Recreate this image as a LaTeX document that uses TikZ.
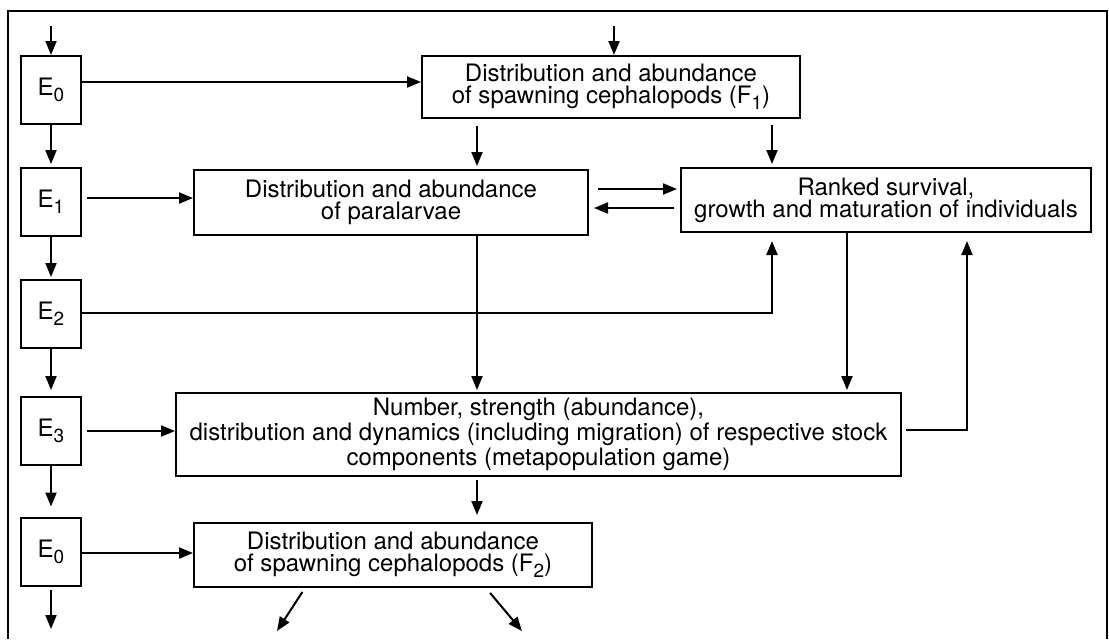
\documentclass[tikz,border=0pt]{standalone}
\usepackage{fontspec}
\setmainfont{TeX Gyre Heros}
\usetikzlibrary{arrows.meta}
\newcommand{\subidx}[1]{\raisebox{-3pt}{\fontsize{9.5}{9.5}\selectfont #1}}

\begin{document}
\begin{tikzpicture}[x=0.5pt, y=-0.5pt,
		box/.style={draw, line width=1pt, inner sep=0pt, align=center, font=\fontsize{12}{11}\selectfont},
		ebox/.style={box, minimum width=30pt, minimum height=34pt},
		arr/.style={line width=1pt, -{Triangle[length=7pt, width=5.5pt]}}]
			%%%%% START %%%%%
			
			\useasboundingbox (0, 0) rectangle (1109, 639);
			\draw[line width=0.8pt] (8, 639) -- (8, 11) -- (1107, 11) -- (1107, 639);
			
			% left column
			\node[ebox] (e0) at (51, 90) {E\subidx{0}};
			\node[ebox] (e1) at (51, 202) {E\subidx{1}};
			\node[ebox] (e2) at (51, 314) {E\subidx{2}};
			\node[ebox] (e3) at (51, 431) {E\subidx{3}};
			\node[ebox] (e4) at (51, 551.5) {E\subidx{0}};
			
			% main boxes
			\node[box, minimum width=189pt, minimum height=31pt] (f1) at (611, 87)
				{Distribution and abundance\\of spawning cephalopods (F\subidx{1})};
			\node[box, minimum width=197pt, minimum height=32.5pt] (par) at (391, 202.5)
				{Distribution and abundance\\of paralarvae};
			\node[box, minimum width=205pt, minimum height=32pt] (rank) at (886, 200)
				{Ranked survival,\\growth and maturation of individuals};
			\node[box, minimum width=362.5pt, minimum height=41.5pt] (nsb) at (538.5, 434.5)
				{Number, strength (abundance),\\distribution and dynamics (including migration) of respective stock\\components (metapopulation game)};
			\node[box, minimum width=199pt, minimum height=32pt] (f2) at (393, 555)
				{Distribution and abundance\\of spawning cephalopods (F\subidx{2})};
			
			% free ends
			\coordinate (in0) at (51, 26);
			\coordinate (in1) at (614, 26);
			\coordinate (out0) at (51, 629);
			\coordinate (outl) at (277, 631);
			\coordinate (outr) at (522, 631);
			
			% left column arrows
			\draw[arr] (in0) -- (e0.north);
			\draw[arr, shorten >=1.5pt] (e0.south) -- (e1.north);
			\draw[arr, shorten >=1pt] (e1.south) -- (e2.north);
			\draw[arr, shorten >=3pt] (e2.south) -- (e3.north);
			\draw[arr, shorten >=5pt] (e3.south) -- (e4.north);
			\draw[arr, shorten <=1.5pt] (e4.south) -- (out0);
			
			% from the E boxes
			\draw[arr] (e0.east |- 0,82) -- (f1.west |- 0,82);
			\draw[arr, shorten <=2.5pt] (e1.east |- 0,198) -- (par.west |- 0,198);
			\draw[arr, shorten >=4pt] (e2.east |- 0,313) -| (rank.south -| 772,0);
			\draw[arr, shorten <=2.5pt] (e3.east |- 0,431) -- (nsb.west |- 0,431);
			\draw[arr] (e4.east |- 0,553) -- (f2.west |- 0,553);
			
			% between the boxes
			\draw[arr] (in1) -- (f1.north -| in1);
			\draw[arr, shorten <=3.5pt, shorten >=1.5pt] (f1.south -| 477,0) -- (par.north -| 477,0);
			\draw[arr, shorten <=3pt, shorten >=1.5pt] (f1.south -| 772,0) -- (rank.north -| 772,0);
			\draw[arr, shorten <=4.5pt, shorten >=1.5pt] (par.east |- 0,189) -- (rank.west |- 0,189);
			\draw[arr, shorten <=3pt, shorten >=2.5pt] (rank.west |- 0,208) -- (par.east |- 0,208);
			\draw[arr, shorten >=1pt] (par.south -| 477,0) -- (nsb.north -| 477,0);
			\draw[arr, shorten >=1pt] (rank.south -| 847,0) -- (nsb.north -| 847,0);
			\draw[arr, shorten <=2pt, shorten >=4pt] (nsb.east |- 0,430) -| (rank.south -| 967,0);
			\draw[arr, shorten <=1.5pt, shorten >=3.5pt] (nsb.south -| 477,0) -- (f2.north -| 477,0);
			\draw[arr, shorten <=2.4pt] (f2.south -| 305,0) -- (outl);
			\draw[arr, shorten <=3.2pt] (f2.south -| 486,0) -- (outr);
			
			%%%%% END %%%%%
		\end{tikzpicture}
\end{document}
